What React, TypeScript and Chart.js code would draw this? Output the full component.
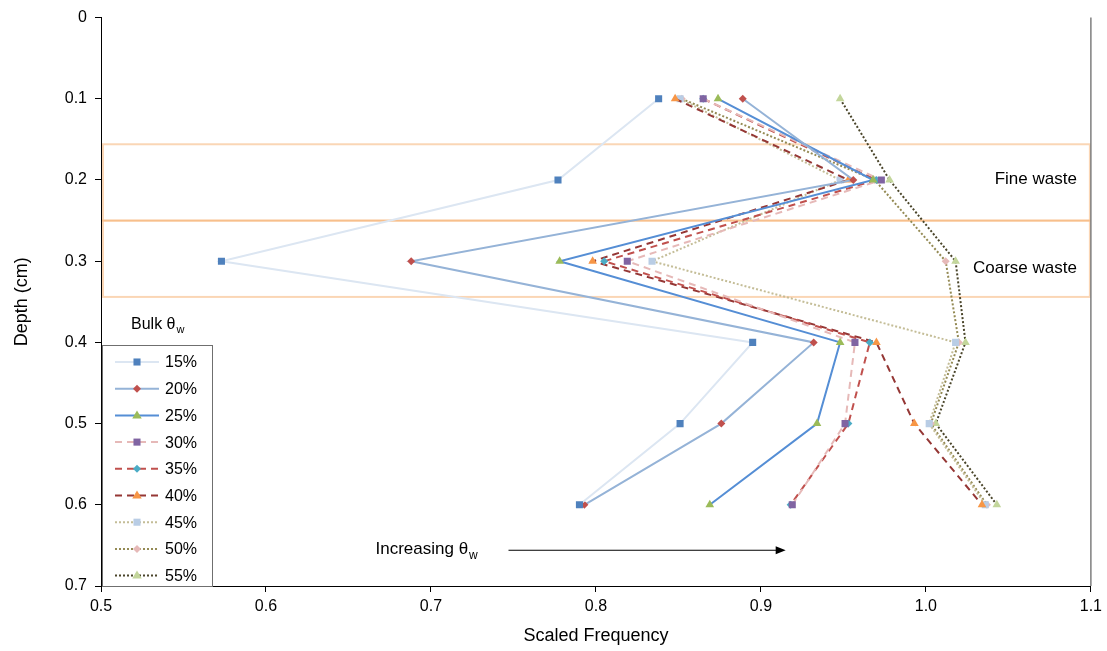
import React, { useEffect, useRef } from 'react';
import { Chart, registerables } from 'chart.js';

Chart.register(...registerables);

const FONT = '"Liberation Sans", Arial, Helvetica, sans-serif';

// Depth levels (cm) at which the scaled frequency was sampled
const depths = [0.1, 0.2, 0.3, 0.4, 0.5, 0.6];

// Bulk water content of each profile
const bulkLabels = ['15%', '20%', '25%', '30%', '35%', '40%', '45%', '50%', '55%'];

// Scaled frequency per profile, one value per depth level
const freq15 = [0.838, 0.777, 0.573, 0.895, 0.851, 0.79];
const freq20 = [0.889, 0.956, 0.688, 0.932, 0.876, 0.793];
const freq25 = [0.874, 0.968, 0.778, 0.948, 0.934, 0.869];
const freq30 = [0.865, 0.973, 0.819, 0.957, 0.951, 0.919];
const freq35 = [0.865, 0.97, 0.805, 0.966, 0.953, 0.918];
const freq40 = [0.848, 0.953, 0.798, 0.97, 0.993, 1.034];
const freq45 = [0.851, 0.948, 0.834, 1.018, 1.002, 1.036];
const freq50 = [0.852, 0.969, 1.012, 1.02, 1.003, 1.037];
const freq55 = [0.948, 0.978, 1.018, 1.024, 1.006, 1.043];

const seriesValues = [freq15, freq20, freq25, freq30, freq35, freq40, freq45, freq50, freq55];

// Waste layers (depth ranges, cm)
const layerNames = ['Fine waste', 'Coarse waste'];
const layerTop = [0.156, 0.25];
const layerBottom = [0.25, 0.344];

// Trend arrow (scaled frequency from/to, at a given depth)
const trendText = 'Increasing θ';
const trendFrom = 0.747;
const trendTo = 0.915;
const trendDepth = 0.656;

// Axis ticks
const xTickMin = 0.5;
const xTickMax = 1.1;
const yTickMin = 0;
const yTickMax = 0.7;
const tickStep = 0.1;

type Look = {
  line: string;
  dash: number[];
  marker: string;
  shape: 'rect' | 'rectRot' | 'triangle';
  size: number;
};

const looks: Look[] = [
  { line: '#DCE6F2', dash: [], marker: '#4F81BD', shape: 'rect', size: 5 },
  { line: '#95B3D7', dash: [], marker: '#C0504D', shape: 'rectRot', size: 4 },
  { line: '#558ED5', dash: [], marker: '#9BBB59', shape: 'triangle', size: 5 },
  { line: '#E6B9B8', dash: [7, 5], marker: '#8064A2', shape: 'rect', size: 5 },
  { line: '#C0504D', dash: [7, 5], marker: '#4BACC6', shape: 'rectRot', size: 4 },
  { line: '#953735', dash: [7, 5], marker: '#F79646', shape: 'triangle', size: 5 },
  { line: '#C4BD97', dash: [2, 2], marker: '#B9CDE5', shape: 'rect', size: 5 },
  { line: '#948A54', dash: [2, 2], marker: '#E6B9B8', shape: 'rectRot', size: 4 },
  { line: '#4A452A', dash: [2, 2], marker: '#C3D69B', shape: 'triangle', size: 5 },
];

function drawMarker(ctx: CanvasRenderingContext2D, look: Look, x: number, y: number) {
  ctx.save();
  ctx.fillStyle = look.marker;
  ctx.beginPath();
  if (look.shape === 'rect') {
    const r = look.size * Math.SQRT1_2;
    ctx.rect(x - r, y - r, 2 * r, 2 * r);
  } else if (look.shape === 'rectRot') {
    const r = look.size;
    ctx.moveTo(x, y - r);
    ctx.lineTo(x + r, y);
    ctx.lineTo(x, y + r);
    ctx.lineTo(x - r, y);
    ctx.closePath();
  } else {
    const r = look.size;
    ctx.moveTo(x, y - r);
    ctx.lineTo(x + r * 0.95, y + r * 0.6);
    ctx.lineTo(x - r * 0.95, y + r * 0.6);
    ctx.closePath();
  }
  ctx.fill();
  ctx.restore();
}

const decorations = {
  id: 'decorations',
  beforeDatasetsDraw(chart: any) {
    const { ctx, chartArea, scales } = chart;
    const y = scales.y;
    ctx.save();
    ctx.strokeStyle = 'rgba(245, 165, 90, 0.45)';
    ctx.lineWidth = 2;
    for (let i = 0; i < layerNames.length; i++) {
      const t = y.getPixelForValue(layerTop[i]);
      const b = y.getPixelForValue(layerBottom[i]);
      ctx.strokeRect(chartArea.left + 2, t, chartArea.right - chartArea.left - 3, b - t);
    }
    ctx.restore();
  },
  afterDatasetsDraw(chart: any) {
    const { ctx, chartArea, scales } = chart;
    const x = scales.x;
    const y = scales.y;
    ctx.save();

    // right border of the plot
    ctx.strokeStyle = '#7F7F7F';
    ctx.lineWidth = 1.5;
    ctx.beginPath();
    ctx.moveTo(chartArea.right, chartArea.top);
    ctx.lineTo(chartArea.right, chartArea.bottom);
    ctx.stroke();

    // layer names
    ctx.fillStyle = '#000';
    ctx.font = `17px ${FONT}`;
    ctx.textAlign = 'right';
    ctx.textBaseline = 'middle';
    const nameShift = [-3, 10];
    for (let i = 0; i < layerNames.length; i++) {
      const mid = y.getPixelForValue((layerTop[i] + layerBottom[i]) / 2);
      ctx.fillText(layerNames[i], chartArea.right - 14, mid + nameShift[i]);
    }

    // trend arrow
    const ay = y.getPixelForValue(trendDepth);
    const ax0 = x.getPixelForValue(trendFrom);
    const ax1 = x.getPixelForValue(trendTo);
    ctx.strokeStyle = '#000';
    ctx.lineWidth = 1.2;
    ctx.beginPath();
    ctx.moveTo(ax0, ay);
    ctx.lineTo(ax1 - 8, ay);
    ctx.stroke();
    ctx.fillStyle = '#000';
    ctx.beginPath();
    ctx.moveTo(ax1, ay);
    ctx.lineTo(ax1 - 10, ay - 4);
    ctx.lineTo(ax1 - 10, ay + 4);
    ctx.closePath();
    ctx.fill();
    ctx.font = `17px ${FONT}`;
    ctx.textAlign = 'left';
    ctx.textBaseline = 'middle';
    const tw = ctx.measureText(trendText).width;
    const tx = ax0 - 133;
    ctx.fillText(trendText, tx, ay - 1);
    ctx.font = `12px ${FONT}`;
    ctx.fillText('w', tx + tw + 1, ay + 5);

    // legend box
    const boxLeft = chartArea.left + 1;
    const boxRight = boxLeft + 110;
    const boxBottom = chartArea.bottom;
    const boxTop = boxBottom - 241;
    ctx.fillStyle = '#fff';
    ctx.fillRect(boxLeft, boxTop, boxRight - boxLeft, boxBottom - boxTop);
    ctx.strokeStyle = '#6F6F6F';
    ctx.lineWidth = 1;
    ctx.strokeRect(boxLeft + 0.5, boxTop + 0.5, boxRight - boxLeft, boxBottom - boxTop);

    // legend title
    ctx.fillStyle = '#000';
    ctx.font = `16px ${FONT}`;
    ctx.textAlign = 'left';
    ctx.textBaseline = 'middle';
    const title = 'Bulk θ';
    const ttw = ctx.measureText(title).width;
    ctx.fillText(title, boxLeft + 29, boxTop - 20);
    ctx.font = `11px ${FONT}`;
    ctx.fillText('w', boxLeft + 29 + ttw + 1, boxTop - 15);

    // legend rows
    for (let i = 0; i < bulkLabels.length; i++) {
      const look = looks[i];
      const ry = boxTop + 17 + i * 26.7;
      ctx.save();
      ctx.strokeStyle = look.line;
      ctx.lineWidth = 2;
      ctx.setLineDash(look.dash);
      ctx.beginPath();
      ctx.moveTo(boxLeft + 13, ry);
      ctx.lineTo(boxLeft + 57, ry);
      ctx.stroke();
      ctx.restore();
      drawMarker(ctx, look, boxLeft + 35, ry);
      ctx.fillStyle = '#000';
      ctx.font = `16px ${FONT}`;
      ctx.textAlign = 'left';
      ctx.textBaseline = 'middle';
      ctx.fillText(bulkLabels[i], boxLeft + 63, ry + 1);
    }
    ctx.restore();
  },
};

export default function App() {
  const canvasRef = useRef<HTMLCanvasElement | null>(null);

  useEffect(() => {
    const canvas = canvasRef.current;
    if (!canvas) return;

    const datasets = seriesValues.map((values, i) => {
      const look = looks[i];
      return {
        label: bulkLabels[i],
        data: values.map((v, k) => ({ x: v, y: depths[k] })),
        showLine: true,
        borderColor: look.line,
        borderWidth: 2,
        borderDash: look.dash,
        backgroundColor: look.marker,
        pointBackgroundColor: look.marker,
        pointBorderColor: look.marker,
        pointBorderWidth: 0,
        pointStyle: look.shape,
        pointRadius: look.size,
        tension: 0,
      };
    });

    const tickFont = { family: FONT, size: 16 };

    const chart = new Chart(canvas, {
      type: 'scatter',
      data: { datasets },
      options: {
        responsive: false,
        animation: false,
        events: [],
        layout: { padding: { top: 16, right: 12, left: 0, bottom: 0 } },
        plugins: {
          legend: { display: false },
          tooltip: { enabled: false },
        },
        scales: {
          x: {
            type: 'linear',
            min: xTickMin,
            max: xTickMax,
            ticks: {
              stepSize: tickStep,
              color: '#000',
              font: tickFont,
              padding: 5,
              maxRotation: 0,
              callback: (v: any) => Number(v).toFixed(1),
            },
            grid: { drawOnChartArea: false, drawTicks: true, tickLength: 6, color: '#000' },
            border: { display: true, color: '#000', width: 1 },
            title: {
              display: true,
              text: 'Scaled Frequency',
              color: '#000',
              font: { family: FONT, size: 18 },
              padding: { top: 4, bottom: 4 },
            },
            afterFit: (s: any) => {
              s.height = 65;
            },
          },
          y: {
            type: 'linear',
            reverse: true,
            min: yTickMin,
            max: yTickMax,
            ticks: {
              stepSize: tickStep,
              color: '#000',
              font: tickFont,
              padding: 8,
              callback: (v: any) => (Math.abs(Number(v)) < 1e-9 ? '0' : Number(v).toFixed(1)),
            },
            grid: { drawOnChartArea: false, drawTicks: true, tickLength: 6, color: '#000' },
            border: { display: true, color: '#000', width: 1 },
            title: {
              display: true,
              text: 'Depth (cm)',
              color: '#000',
              font: { family: FONT, size: 18 },
              padding: { top: 11, bottom: 4 },
            },
            afterFit: (s: any) => {
              s.width = 101;
            },
          },
        },
      },
      plugins: [decorations],
    } as any);

    return () => chart.destroy();
  }, []);

  return (
    <div style={{ position: 'fixed', left: 0, top: 0, width: 1107, height: 651, background: '#fff' }}>
      <canvas ref={canvasRef} width={1107} height={651} style={{ display: 'block' }} />
    </div>
  );
}
